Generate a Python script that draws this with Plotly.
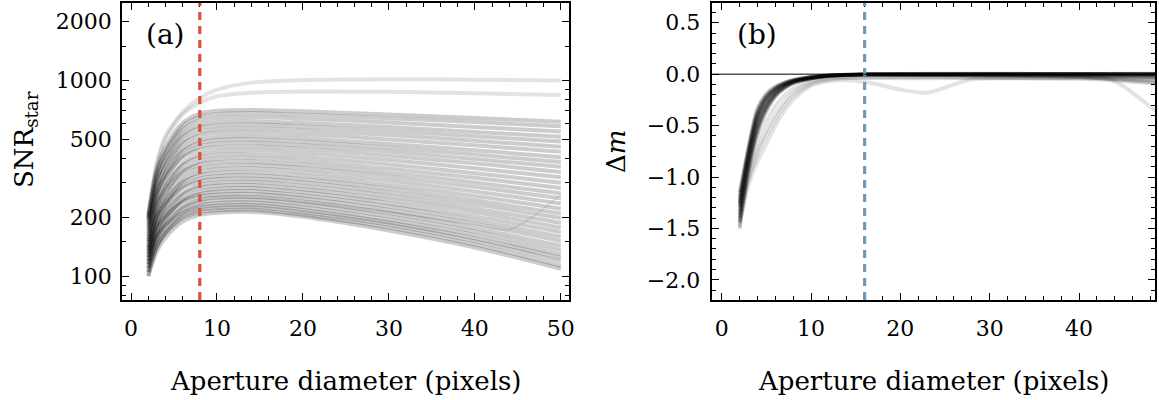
import plotly.graph_objects as go

# ---------------- data ----------------
# Panel (a): SNR_star vs aperture diameter
X_SNR = [2, 3, 4, 6, 8, 10, 14, 20, 30, 40, 50]
SNR_CURVES = [
    [205, 356, 456, 607, 677, 700, 707, 696, 670, 643, 615],
    [190, 337, 435, 582, 651, 673, 680, 668, 642, 613, 584],
    [200, 335, 425, 560, 623, 643, 650, 638, 610, 579, 549],
    [175, 308, 397, 531, 593, 613, 620, 607, 578, 546, 515],
    [195, 315, 395, 515, 571, 589, 595, 582, 552, 519, 487],
    [160, 283, 365, 488, 545, 564, 570, 557, 526, 492, 459],
    [185, 293, 365, 473, 523, 540, 545, 531, 500, 466, 432],
    [150, 261, 335, 446, 498, 514, 520, 506, 474, 440, 405],
    [170, 269, 335, 434, 480, 495, 500, 486, 453, 418, 383],
    [140, 242, 310, 412, 460, 475, 480, 466, 433, 397, 362],
    [180, 264, 320, 404, 443, 456, 460, 446, 412, 377, 341],
    [130, 223, 285, 378, 421, 435, 440, 426, 392, 356, 320],
    [155, 235, 288, 367, 404, 416, 420, 406, 372, 336, 300],
    [120, 205, 261, 346, 385, 398, 402, 388, 354, 318, 282],
    [165, 231, 275, 341, 372, 382, 385, 371, 337, 301, 265],
    [135, 206, 253, 323, 356, 366, 370, 356, 322, 286, 250],
    [110, 184, 233, 306, 340, 351, 355, 341, 307, 271, 235],
    [145, 204, 243, 301, 328, 337, 340, 326, 292, 257, 221],
    [125, 186, 226, 287, 315, 324, 327, 313, 280, 244, 209],
    [150, 200, 233, 282, 305, 313, 315, 301, 268, 233, 198],
    [115, 171, 209, 265, 292, 300, 303, 289, 257, 222, 187],
    [135, 182, 214, 261, 283, 290, 292, 278, 246, 212, 177],
    [105, 158, 194, 247, 271, 279, 282, 268, 236, 202, 168],
    [125, 169, 199, 243, 263, 270, 272, 258, 227, 193, 159],
    [140, 177, 202, 238, 256, 261, 263, 250, 218, 185, 151],
    [110, 153, 182, 225, 245, 252, 254, 241, 210, 176, 143],
    [120, 158, 183, 221, 238, 244, 246, 233, 202, 169, 136],
    [100, 141, 169, 210, 230, 236, 238, 225, 194, 162, 129],
    [130, 160, 181, 211, 225, 229, 231, 218, 188, 156, 124],
    [105, 141, 165, 201, 218, 223, 225, 212, 183, 151, 119],
    [115, 146, 167, 198, 213, 217, 219, 206, 177, 145, 113],
    [100, 134, 157, 190, 206, 211, 213, 201, 171, 140, 109],
]
SNR_BRIGHT = [
    [200, 380, 520, 690, 814, 898, 975, 1005, 1015, 1010, 1000],
    [195, 370, 500, 670, 768, 830, 865, 878, 875, 860, 842],
]
ODD_X = [2, 4, 8, 14, 20, 30, 40, 44, 47, 50]
ODD_Y = [120, 195, 248, 253, 240, 212, 182, 173, 205, 262]

# Panel (b): delta m vs aperture diameter
X_DM = [2, 3, 4, 5, 6, 7, 8, 10, 12, 14, 16, 20, 30, 40, 50]
DM_DARK = [
    [-1.15, -0.70, -0.33, -0.19, -0.12, -0.080, -0.055, -0.025, -0.010, -0.003, 0.000, 0.004, 0.006, 0.004, 0.008],
    [-1.19, -0.73, -0.36, -0.21, -0.13, -0.086, -0.058, -0.027, -0.011, -0.004, 0.000, 0.002, 0.003, 0.005, 0.004],
    [-1.22, -0.75, -0.38, -0.22, -0.14, -0.092, -0.062, -0.029, -0.012, -0.005, -0.001, 0.000, 0.002, 0.001, 0.003],
    [-1.25, -0.78, -0.41, -0.24, -0.15, -0.098, -0.066, -0.031, -0.013, -0.006, -0.002, 0.001, -0.001, 0.002, 0.000],
    [-1.26, -0.76, -0.40, -0.23, -0.145, -0.095, -0.064, -0.030, -0.012, -0.005, -0.002, 0.002, 0.004, 0.003, 0.002],
    [-1.28, -0.80, -0.43, -0.26, -0.16, -0.104, -0.069, -0.033, -0.014, -0.006, -0.002, -0.001, 0.000, -0.002, -0.003],
    [-1.30, -0.82, -0.45, -0.27, -0.17, -0.110, -0.072, -0.035, -0.015, -0.007, -0.003, -0.002, -0.003, -0.001, -0.004],
    [-1.33, -0.85, -0.48, -0.29, -0.18, -0.116, -0.076, -0.037, -0.016, -0.008, -0.003, -0.004, -0.002, -0.005, -0.008],
    [-1.36, -0.87, -0.50, -0.31, -0.19, -0.122, -0.079, -0.039, -0.017, -0.008, -0.004, -0.006, -0.008, -0.010, -0.015],
    [-1.40, -0.89, -0.53, -0.32, -0.20, -0.128, -0.083, -0.041, -0.018, -0.009, -0.004, -0.005, -0.006, -0.012, -0.030],
    [-1.44, -0.92, -0.55, -0.34, -0.21, -0.134, -0.086, -0.043, -0.019, -0.010, -0.005, -0.010, -0.012, -0.020, -0.040],
    [-1.50, -0.95, -0.58, -0.36, -0.22, -0.140, -0.090, -0.045, -0.020, -0.010, -0.005, -0.008, -0.015, -0.030, -0.090],
]
DM_LIGHT = [
    [-1.42, -1.00, -0.74, -0.55, -0.39, -0.27, -0.18, -0.080, -0.045, -0.035, -0.035, -0.040, -0.040, -0.040, -0.060],
    [-1.38, -0.95, -0.66, -0.46, -0.31, -0.21, -0.14, -0.065, -0.035, -0.025, -0.020, -0.025, -0.030, -0.030, -0.050],
    [-1.45, -1.03, -0.78, -0.60, -0.44, -0.31, -0.21, -0.100, -0.055, -0.040, -0.035, -0.030, -0.035, -0.045, -0.100],
]
DIP_X = [2, 3, 4, 5, 6, 7, 8, 10, 12, 14, 17, 20, 23, 26, 28, 32, 38, 43, 45, 47, 50]
DIP_Y = [-1.48, -1.08, -0.85, -0.68, -0.50, -0.36, -0.25, -0.11, -0.07, -0.06, -0.09, -0.15,
         -0.18, -0.10, -0.05, -0.04, -0.04, -0.04, -0.12, -0.25, -0.45]

SNR_TICKS = [100, 200, 500, 1000, 2000]
SNR_MINOR = [80, 90, 150, 300, 400, 600, 700, 800, 900, 1500]
APERTURE_A = 8
APERTURE_B = 16

# ---------------- figure ----------------
FONT = "DejaVu Serif"
BAND = "rgba(0,0,0,0.2)"
FAINT = "rgba(0,0,0,0.11)"
DARK = "rgba(0,0,0,0.24)"

fig = go.Figure()


def add_line(x, y, axis, color, width):
    fig.add_trace(go.Scatter(
        x=x, y=y, mode="lines", xaxis="x" + axis, yaxis="y" + axis,
        line=dict(color=color, width=width, shape="spline", smoothing=0.8),
        hoverinfo="skip", showlegend=False))


for c in SNR_CURVES:
    add_line(X_SNR, c, "", BAND, 4)
for c in SNR_BRIGHT:
    add_line(X_SNR, c, "", FAINT, 4)
add_line(ODD_X, ODD_Y, "", "rgba(0,0,0,0.08)", 2)

for c in DM_LIGHT:
    add_line(X_DM, c, "2", FAINT, 4)
add_line(DIP_X, DIP_Y, "2", FAINT, 4)
for c in DM_DARK:
    add_line(X_DM, c, "2", DARK, 3.5)

W, H = 1159, 400
L1, R1 = 122 / W, 569 / W
L2, R2 = 712.3 / W, 1155 / W

axis_common = dict(
    showline=True, linecolor="black", linewidth=1.5, mirror="allticks",
    ticks="inside", ticklen=7, tickwidth=1.3, tickcolor="black",
    showgrid=False, zeroline=False, automargin=False,
    tickfont=dict(family=FONT, size=22, color="black"),
)
minor_common = dict(ticks="inside", ticklen=4, tickwidth=1, tickcolor="black")

fig.update_layout(
    width=W, height=H,
    margin=dict(l=0, r=0, t=3, b=100),
    paper_bgcolor="white", plot_bgcolor="white",
    font=dict(family=FONT, size=22, color="black"),
    xaxis=dict(domain=[L1, R1], range=[-1.05, 50.95], tickmode="array",
               tickvals=[0, 10, 20, 30, 40, 50], ticklabelstandoff=8,
               minor=dict(dtick=2, tick0=0, **minor_common),
               anchor="y", **axis_common),
    yaxis=dict(domain=[0, 1], type="log", range=[1.878, 3.396], tickmode="array",
               tickvals=SNR_TICKS, ticktext=[str(v) for v in SNR_TICKS],
               ticklabelstandoff=4,
               minor=dict(tickmode="array", tickvals=SNR_MINOR, **minor_common),
               anchor="x", **axis_common),
    xaxis2=dict(domain=[L2, R2], range=[-1.05, 48.5], tickmode="array",
                tickvals=[0, 10, 20, 30, 40], ticklabelstandoff=8,
                minor=dict(dtick=2, tick0=0, **minor_common),
                anchor="y2", **axis_common),
    yaxis2=dict(domain=[0, 1], range=[-2.196, 0.692], tickmode="array",
                tickvals=[-2.0, -1.5, -1.0, -0.5, 0.0, 0.5],
                ticktext=["\u22122.0", "\u22121.5", "\u22121.0", "\u22120.5", "0.0", "0.5"],
                ticklabelstandoff=6,
                minor=dict(dtick=0.1, tick0=0, **minor_common),
                anchor="x2", **axis_common),
)

# vertical aperture markers and zero line
fig.add_shape(type="line", xref="x", yref="y domain", x0=APERTURE_A, x1=APERTURE_A, y0=0, y1=1,
              line=dict(color="#d9533b", width=3.2, dash="8px,6px"))
fig.add_shape(type="line", xref="x2", yref="y2 domain", x0=APERTURE_B, x1=APERTURE_B, y0=0, y1=1,
              line=dict(color="#6f9ab8", width=3.2, dash="8px,6px"))
fig.add_shape(type="line", xref="x2 domain", yref="y2", x0=0, x1=1, y0=0, y1=0,
              line=dict(color="black", width=1))

plot_h = H - 3 - 100


def py(px):
    return (H - 100 - px) / plot_h


ann = [
    dict(text="(a)", x=L1 + (165 - 122) / W, y=py(35), size=28),
    dict(text="(b)", x=L2 + (757 - 712.3) / W, y=py(35), size=28),
    dict(text="Aperture diameter (pixels)", x=(L1 + R1) / 2, y=py(381), size=26),
    dict(text="Aperture diameter (pixels)", x=(L2 + R2) / 2, y=py(381), size=26),
    dict(text="SNR<sub>star</sub>", x=25 / W, y=py(140), size=26, textangle=-90),
    dict(text="\u0394<i>m</i>", x=616 / W, y=py(152), size=26, textangle=-90),
]
for a in ann:
    size = a.pop("size")
    fig.add_annotation(xref="paper", yref="paper", showarrow=False,
                       xanchor="center", yanchor="middle",
                       font=dict(family=FONT, size=size, color="black"), **a)

fig.write_html("out.html", config={"displayModeBar": False},
               post_script="document.body.style.margin='0px';")
